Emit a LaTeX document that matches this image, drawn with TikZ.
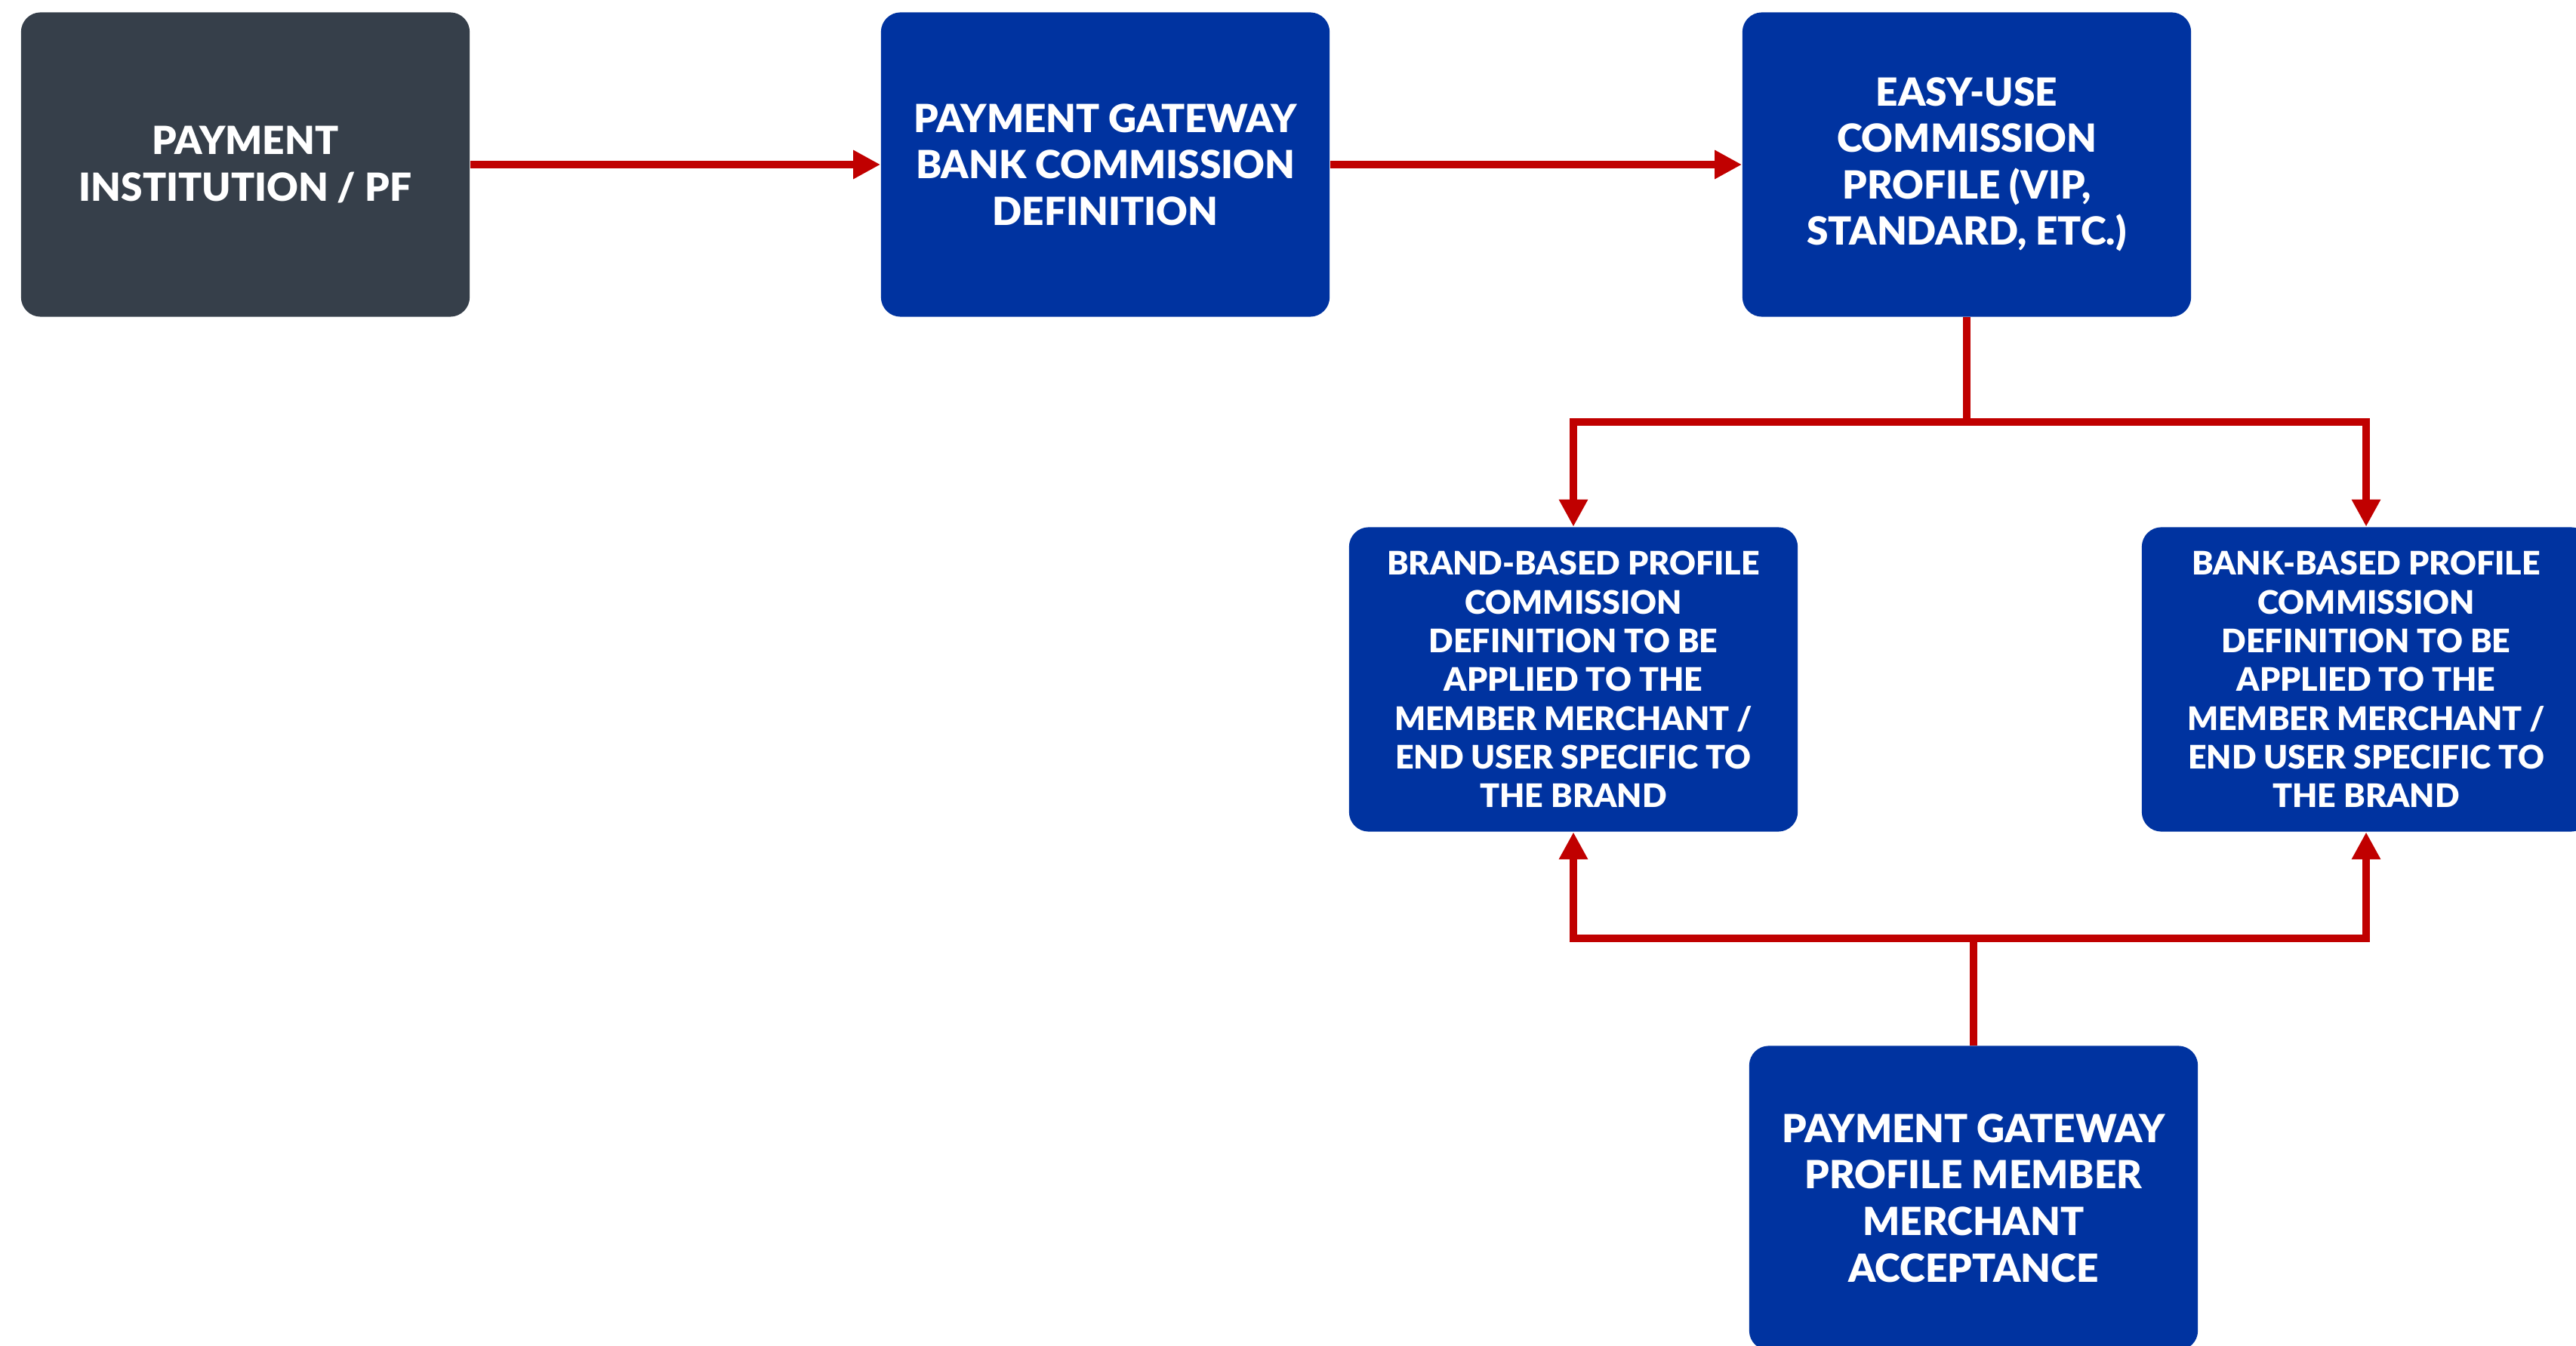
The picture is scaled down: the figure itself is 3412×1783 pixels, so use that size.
\documentclass[tikz,border=0pt]{standalone}
\usepackage{fontspec}
\setmainfont{Lato}[BoldFont={Lato Black}]
\usetikzlibrary{arrows.meta}
\definecolor{darkbox}{HTML}{363F4A}
\definecolor{bluebox}{HTML}{0033A0}
\definecolor{arrred}{HTML}{C00000}
\tikzset{
  boxbase/.style={rectangle, rounded corners=0.26cm, minimum width=5.94cm, minimum height=4.03cm, inner sep=0pt, align=center, text=white, font=\bfseries\fontsize{14.6}{17.5}\selectfont, draw=none},
  darkstyle/.style={boxbase, fill=darkbox},
  bluestyle/.style={boxbase, fill=bluebox},
  smalltext/.style={font=\bfseries\fontsize{12.2}{14.6}\selectfont},
  conn/.style={draw=arrred, line width=3pt},
  arr/.style={conn, -{Triangle[length=0.36cm, width=0.36cm]}}
}
\begin{document}
\begin{tikzpicture}[x=0.01cm, y=-0.01cm]
\useasboundingbox (0,0) rectangle (3412,1783);
\node[darkstyle] (b1) at (325,218) {PAYMENT\\INSTITUTION / PF};
\node[bluestyle] (b2) at (1464,218) {PAYMENT GATEWAY\\BANK COMMISSION\\DEFINITION};
\node[bluestyle] (b3) at (2605,218) {EASY-USE\\COMMISSION\\PROFILE (VIP,\\STANDARD, ETC.)};
\node[bluestyle, smalltext] (b4) at (2084,900) {BRAND-BASED PROFILE\\COMMISSION\\DEFINITION TO BE\\APPLIED TO THE\\MEMBER MERCHANT /\\END USER SPECIFIC TO\\THE BRAND};
\node[bluestyle, smalltext] (b5) at (3134,900) {BANK-BASED PROFILE\\COMMISSION\\DEFINITION TO BE\\APPLIED TO THE\\MEMBER MERCHANT /\\END USER SPECIFIC TO\\THE BRAND};
\node[bluestyle] (b6) at (2614,1587) {PAYMENT GATEWAY\\PROFILE MEMBER\\MERCHANT\\ACCEPTANCE};
\coordinate (jU) at (2605,559);
\coordinate (jL) at (2614,1243);
\draw[arr] (b1.east) -- (b2.west);
\draw[arr] (b2.east) -- (b3.west);
\draw[conn] (b3.south) -- (jU);
\draw[arr] (jU) -| (b4.north);
\draw[arr] (jU) -| (b5.north);
\draw[conn] (b6.north) -- (jL);
\draw[arr] (jL) -| (b4.south);
\draw[arr] (jL) -| (b5.south);
\end{tikzpicture}
\end{document}
